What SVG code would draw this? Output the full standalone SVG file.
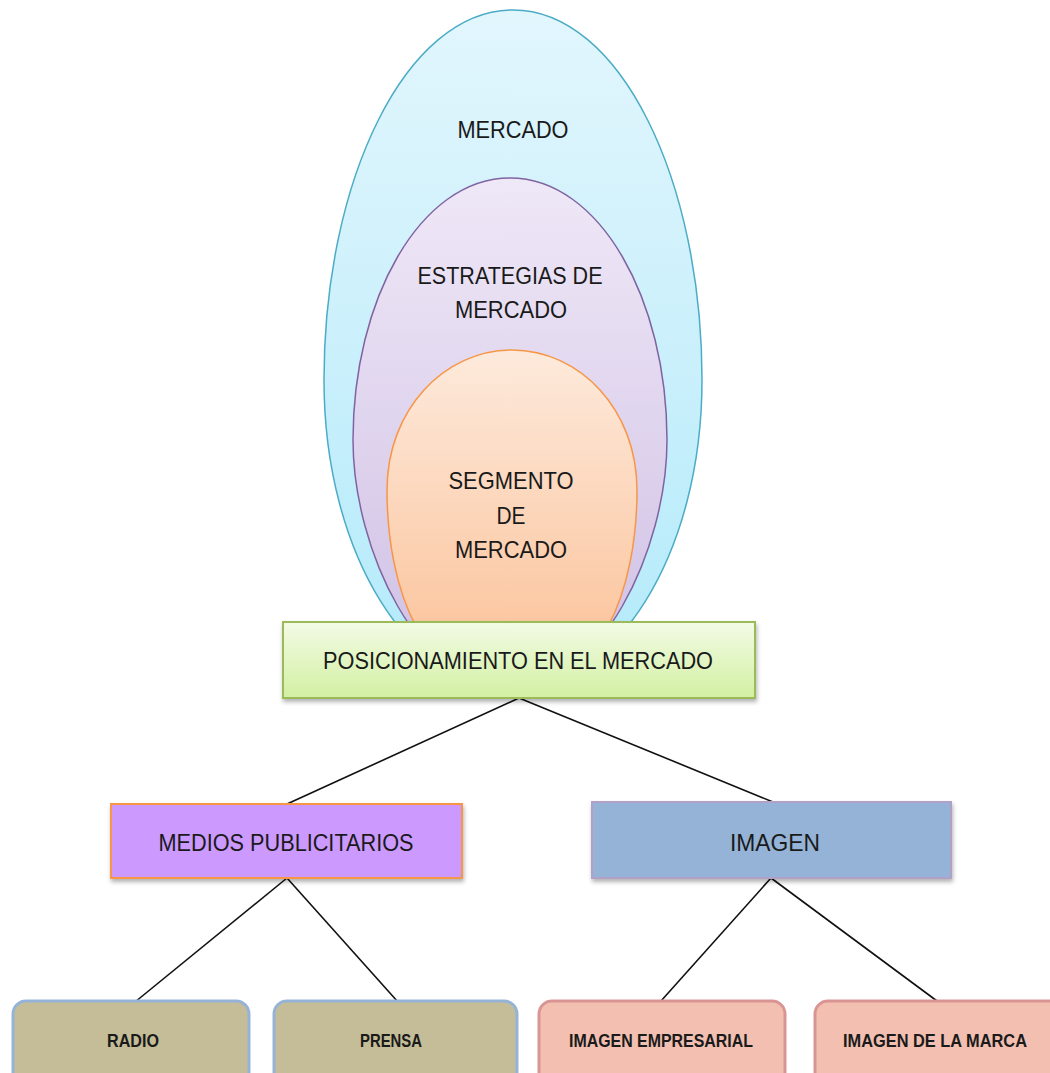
<svg xmlns="http://www.w3.org/2000/svg" width="1050" height="1073" viewBox="0 0 1050 1073">
<defs>
<linearGradient id="gBlue" x1="0" y1="0" x2="0" y2="1"><stop offset="0" stop-color="#e2f6fd"/><stop offset="1" stop-color="#b3eafa"/></linearGradient>
<linearGradient id="gPurple" x1="0" y1="0" x2="0" y2="1"><stop offset="0" stop-color="#efe8f7"/><stop offset="1" stop-color="#cfbfe4"/></linearGradient>
<linearGradient id="gOrange" x1="0" y1="0" x2="0" y2="1"><stop offset="0" stop-color="#fdeadc"/><stop offset="1" stop-color="#fbbf94"/></linearGradient>
<linearGradient id="gGreen" x1="0" y1="0" x2="0" y2="1"><stop offset="0" stop-color="#f3fbe6"/><stop offset="1" stop-color="#d2f0a2"/></linearGradient>
<filter id="sh" x="-10%" y="-10%" width="120%" height="130%"><feDropShadow dx="1" dy="3" stdDeviation="2" flood-color="#000" flood-opacity="0.3"/></filter>
</defs>
<style>
text{font-family:"Liberation Sans",Arial,sans-serif;fill:#1a1a1a;text-anchor:middle}
.big{font-size:24px}
.small{font-size:18px;font-weight:bold}
.conn line{stroke:#111;stroke-width:1.6}
.leaf{stroke-width:3}
</style>
<g id="mercado">
<path d="M513,10 C620,10 702,180 702,380 C702,555 615,690 513,690 C411,690 324,555 324,380 C324,180 406,10 513,10 Z" fill="url(#gBlue)" stroke="#4bacc6" stroke-width="1.5"/>
<text class="big" x="513" y="138" textLength="111" lengthAdjust="spacingAndGlyphs">MERCADO</text>
</g>
<g id="estrategias">
<path d="M510,178 C600,178 667,300 667,440 C667,550 600,690 510,690 C420,690 353,550 353,440 C353,300 420,178 510,178 Z" fill="url(#gPurple)" stroke="#8064a2" stroke-width="1.5"/>
<text class="big" x="510" y="284" textLength="185" lengthAdjust="spacingAndGlyphs">ESTRATEGIAS DE</text>
<text class="big" x="511" y="318" textLength="112" lengthAdjust="spacingAndGlyphs">MERCADO</text>
</g>
<g id="segmento">
<path d="M512,350 C580,350 637,410 637,490 C637,590 600,690 512,690 C424,690 387,590 387,490 C387,410 444,350 512,350 Z" fill="url(#gOrange)" stroke="#f79646" stroke-width="1.5"/>
<text class="big" x="511" y="489" textLength="125" lengthAdjust="spacingAndGlyphs">SEGMENTO</text>
<text class="big" x="511" y="524" textLength="29" lengthAdjust="spacingAndGlyphs">DE</text>
<text class="big" x="511" y="558" textLength="112" lengthAdjust="spacingAndGlyphs">MERCADO</text>
</g>
<g class="conn" id="connectors">
<line x1="519" y1="698" x2="287" y2="804"/>
<line x1="519" y1="698" x2="773" y2="802"/>
<line x1="287" y1="878" x2="135" y2="1002"/>
<line x1="287" y1="878" x2="398" y2="1002"/>
<line x1="771" y1="878" x2="661" y2="1001"/>
<line x1="771" y1="878" x2="937" y2="1001"/>
</g>
<g id="posicionamiento">
<rect x="283" y="622" width="472" height="76" fill="url(#gGreen)" stroke="#9bbb59" stroke-width="2" filter="url(#sh)"/>
<text class="big" x="518" y="669" textLength="390" lengthAdjust="spacingAndGlyphs">POSICIONAMIENTO EN EL MERCADO</text>
</g>
<g id="medios">
<rect x="111" y="804" width="351" height="74" fill="#cc99ff" stroke="#f79646" stroke-width="2" filter="url(#sh)"/>
<text class="big" x="286" y="851" textLength="255" lengthAdjust="spacingAndGlyphs">MEDIOS PUBLICITARIOS</text>
</g>
<g id="imagen">
<rect x="592" y="802" width="359" height="76" fill="#95b3d7" stroke="#b2a1c7" stroke-width="2" filter="url(#sh)"/>
<text class="big" x="775" y="851" textLength="90" lengthAdjust="spacingAndGlyphs">IMAGEN</text>
</g>
<g id="radio">
<rect class="leaf" x="13" y="1001" width="236" height="90" rx="13" fill="#c4bd97" stroke="#95b3d7"/>
<text class="small" x="133" y="1047" textLength="52" lengthAdjust="spacingAndGlyphs">RADIO</text>
</g>
<g id="prensa">
<rect class="leaf" x="274" y="1001" width="243" height="90" rx="13" fill="#c4bd97" stroke="#95b3d7"/>
<text class="small" x="391" y="1047" textLength="62" lengthAdjust="spacingAndGlyphs">PRENSA</text>
</g>
<g id="imagen-empresarial">
<rect class="leaf" x="539" y="1001" width="246" height="90" rx="13" fill="#f2bfb1" stroke="#d99594"/>
<text class="small" x="661" y="1047" textLength="184" lengthAdjust="spacingAndGlyphs">IMAGEN EMPRESARIAL</text>
</g>
<g id="imagen-marca">
<rect class="leaf" x="815" y="1001" width="250" height="90" rx="13" fill="#f2bfb1" stroke="#d99594"/>
<text class="small" x="935" y="1047" textLength="184" lengthAdjust="spacingAndGlyphs">IMAGEN DE LA MARCA</text>
</g>
</svg>
